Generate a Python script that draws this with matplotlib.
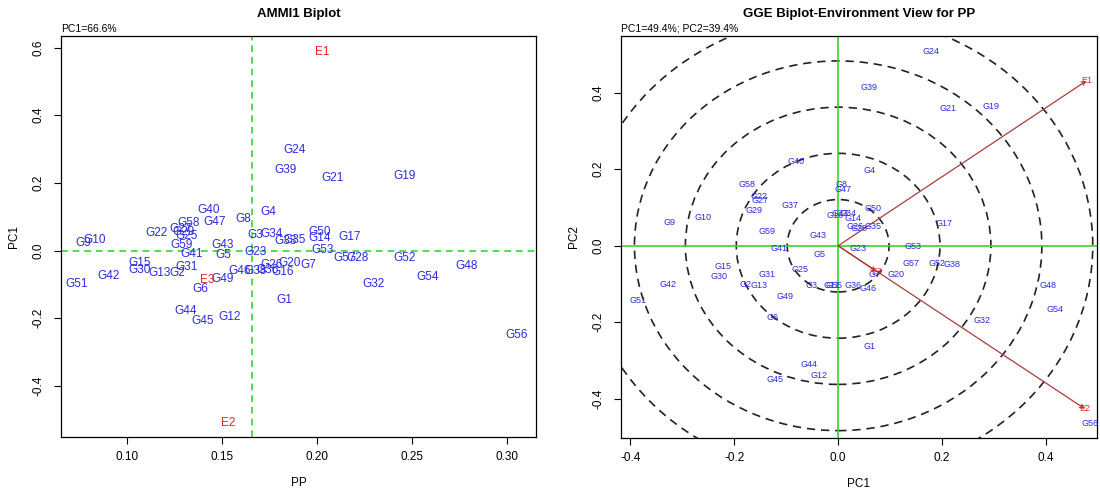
import matplotlib
matplotlib.use("Agg")
import matplotlib.pyplot as plt
from matplotlib.patches import Ellipse

plt.rcParams['font.family'] = ['Liberation Sans', 'DejaVu Sans']
plt.rcParams['axes.unicode_minus'] = False

# ---- AMMI1: genotype mean PP vs IPCA1 score ----
ammi_gen = ["G1", "G2", "G3", "G4", "G5", "G6", "G7", "G8", "G9", "G10",
            "G12", "G13", "G14", "G15", "G16", "G17", "G19", "G20", "G21", "G22",
            "G23", "G24", "G25", "G26", "G27", "G28", "G29", "G30", "G31", "G32",
            "G33", "G34", "G35", "G36", "G38", "G39", "G40", "G41", "G42", "G43",
            "G44", "G45", "G46", "G47", "G48", "G49", "G50", "G51", "G52", "G53",
            "G54", "G56", "G57", "G58", "G59"]
ammi_pp = [0.1826, 0.1263, 0.1674, 0.1742, 0.1505, 0.1384, 0.1953, 0.1611, 0.0768, 0.0832,
           0.1542, 0.1174, 0.2016, 0.1068, 0.1821, 0.2174, 0.2463, 0.1858, 0.2084, 0.1153,
           0.1679, 0.1884, 0.1316, 0.1763, 0.1284, 0.2211, 0.1300, 0.1068, 0.1311, 0.2295,
           0.1832, 0.1763, 0.1884, 0.1742, 0.1679, 0.1832, 0.1432, 0.1342, 0.0905, 0.1505,
           0.1311, 0.1400, 0.1595, 0.1463, 0.2789, 0.1505, 0.2016, 0.0737, 0.2463, 0.2032,
           0.2584, 0.3053, 0.2147, 0.1326, 0.1289]
ammi_pc1 = [-0.146, -0.066, 0.046, 0.114, -0.013, -0.114, -0.043, 0.093, 0.022, 0.031,
            -0.196, -0.066, 0.037, -0.037, -0.064, 0.040, 0.220, -0.037, 0.214, 0.052,
            -0.004, 0.297, 0.043, -0.043, 0.064, -0.022, 0.055, -0.058, -0.049, -0.099,
            0.028, 0.049, 0.031, -0.058, -0.061, 0.238, 0.120, -0.010, -0.075, 0.016,
            -0.179, -0.208, -0.061, 0.084, -0.046, -0.084, 0.055, -0.099, -0.022, 0.001,
            -0.078, -0.250, -0.022, 0.081, 0.016]
ammi_env = ["E1", "E2", "E3"]
ammi_env_pp = [0.2026, 0.1532, 0.1421]
ammi_env_pc1 = [0.586, -0.510, -0.087]

# ---- GGE biplot: genotype and environment scores ----
gge_gen = ["G1", "G2", "G3", "G4", "G5", "G6", "G7", "G8", "G9", "G10",
           "G11", "G12", "G13", "G14", "G15", "G16", "G17", "G19", "G20", "G21",
           "G22", "G23", "G24", "G25", "G26", "G27", "G28", "G29", "G30", "G31",
           "G32", "G33", "G34", "G35", "G36", "G37", "G38", "G39", "G40", "G41",
           "G42", "G43", "G44", "G45", "G46", "G47", "G48", "G49", "G50", "G51",
           "G52", "G53", "G54", "G55", "G56", "G57", "G58", "G59"]
gge_pc1 = [0.061, -0.178, -0.051, 0.060, -0.035, -0.127, 0.070, 0.007, -0.324, -0.261,
           -0.012, -0.036, -0.152, 0.029, -0.2225, -0.005, 0.2035, 0.2945, 0.112, 0.2105,
           -0.152, 0.039, 0.179, -0.073, 0.032, -0.150, 0.040, -0.162, -0.230, -0.137,
           0.277, 0.003, 0.018, 0.068, 0.029, -0.093, 0.220, 0.060, -0.081, -0.114,
           -0.328, -0.038, -0.057, -0.121, 0.058, 0.010, 0.403, -0.102, 0.067, -0.385,
           0.191, 0.144, 0.417, -0.008, 0.484, 0.140, -0.175, -0.137]
gge_pc2 = [-0.262, -0.100, -0.105, 0.196, -0.022, -0.187, -0.074, 0.161, 0.061, 0.074,
           -0.105, -0.340, -0.104, 0.070, -0.053, 0.080, 0.057, 0.365, -0.074, 0.359,
           0.130, -0.008, 0.507, -0.063, 0.050, 0.119, 0.046, 0.091, -0.081, -0.075,
           -0.194, 0.083, 0.083, 0.050, -0.105, 0.106, -0.048, 0.414, 0.219, -0.008,
           -0.100, 0.028, -0.309, -0.350, -0.112, 0.146, -0.105, -0.133, 0.098, -0.142,
           -0.046, -0.002, -0.166, -0.103, -0.464, -0.046, 0.159, 0.038]
gge_env = ["E1", "E2", "E3"]
gge_env_pc1 = [0.478, 0.475, 0.0735]
gge_env_pc2 = [0.431, -0.426, -0.067]

ring_step_x = 0.098
ring_step_y = 0.1207
n_rings = 5

GEN_COL = '#2b2be0'
ENV_COL = '#e62424'
VEC_COL = '#b23a3a'
GREEN = '#33d633'

fig = plt.figure(figsize=(11, 4.92), dpi=100)
ax1 = fig.add_axes([0.0555, 0.1118, 0.4318, 0.815])
ax2 = fig.add_axes([0.5645, 0.1098, 0.4327, 0.8171])

for ax in (ax1, ax2):
    ax.tick_params(direction='out', length=5, width=0.8, labelsize=8.5, pad=5)
    ax.tick_params(axis='y', labelrotation=90, pad=7)
    for sp in ax.spines.values():
        sp.set_linewidth(0.9)

# AMMI1 panel
mean_pp = sum(ammi_env_pp) / len(ammi_env_pp)
ax1.set_xlim(0.0653, 0.3153)
ax1.set_ylim(-0.551, 0.634)
ax1.axvline(mean_pp, color=GREEN, ls=(0, (4, 3)), lw=1.2)
ax1.axhline(0, color=GREEN, ls=(0, (4, 3)), lw=1.2)
for g, x, y in zip(ammi_gen, ammi_pp, ammi_pc1):
    ax1.text(x, y, g, color=GEN_COL, fontsize=8.5, ha='center', va='center')
for e, x, y in zip(ammi_env, ammi_env_pp, ammi_env_pc1):
    ax1.text(x, y, e, color=ENV_COL, fontsize=8.5, ha='center', va='center')
ax1.set_xticks([0.10, 0.15, 0.20, 0.25, 0.30])
ax1.set_xticklabels(["%.2f" % v for v in [0.10, 0.15, 0.20, 0.25, 0.30]])
ax1.set_yticks([-0.4, -0.2, 0.0, 0.2, 0.4, 0.6])
ax1.set_yticklabels(["%.1f" % v for v in [-0.4, -0.2, 0.0, 0.2, 0.4, 0.6]], va='center')
ax1.set_xlabel("PP", fontsize=8.5, labelpad=10)
ax1.set_ylabel("PC1", fontsize=8.5, labelpad=9)
ax1.set_title("AMMI1 Biplot", fontsize=9.5, fontweight='bold', pad=14)
ax1.text(0, 1.006, "PC1=66.6%", transform=ax1.transAxes, fontsize=7.5,
         ha='left', va='bottom')

# GGE environment view
ax2.set_xlim(-0.418, 0.498)
ax2.set_ylim(-0.502, 0.548)
for k in range(1, n_rings + 1):
    ax2.add_patch(Ellipse((0, 0), 2 * ring_step_x * k, 2 * ring_step_y * k,
                          fill=False, ec='#222222', lw=1.2, ls=(0, (5, 3.5))))
ax2.axvline(0, color=GREEN, lw=1.2)
ax2.axhline(0, color=GREEN, lw=1.2)
for x, y in zip(gge_env_pc1, gge_env_pc2):
    ax2.annotate('', xy=(x, y), xytext=(0, 0),
                 arrowprops=dict(arrowstyle='->', color=VEC_COL, lw=0.9,
                                 shrinkA=0, shrinkB=0, mutation_scale=7))
for g, x, y in zip(gge_gen, gge_pc1, gge_pc2):
    ax2.text(x, y, g, color=GEN_COL, fontsize=6.5, ha='center', va='center')
for e, x, y in zip(gge_env, gge_env_pc1, gge_env_pc2):
    ax2.text(x, y, e, color=ENV_COL, fontsize=6.5, ha='center', va='center')
ax2.set_xticks([-0.4, -0.2, 0.0, 0.2, 0.4])
ax2.set_xticklabels(["%.1f" % v for v in [-0.4, -0.2, 0.0, 0.2, 0.4]])
ax2.set_yticks([-0.4, -0.2, 0.0, 0.2, 0.4])
ax2.set_yticklabels(["%.1f" % v for v in [-0.4, -0.2, 0.0, 0.2, 0.4]], va='center')
ax2.set_xlabel("PC1", fontsize=8.5, labelpad=10)
ax2.set_ylabel("PC2", fontsize=8.5, labelpad=9)
ax2.set_title("GGE Biplot-Environment View for PP", fontsize=9.5,
              fontweight='bold', pad=14)
ax2.text(0, 1.006, "PC1=49.4%; PC2=39.4%", transform=ax2.transAxes, fontsize=7.5,
         ha='left', va='bottom')

fig.savefig("out.png", dpi=100)
